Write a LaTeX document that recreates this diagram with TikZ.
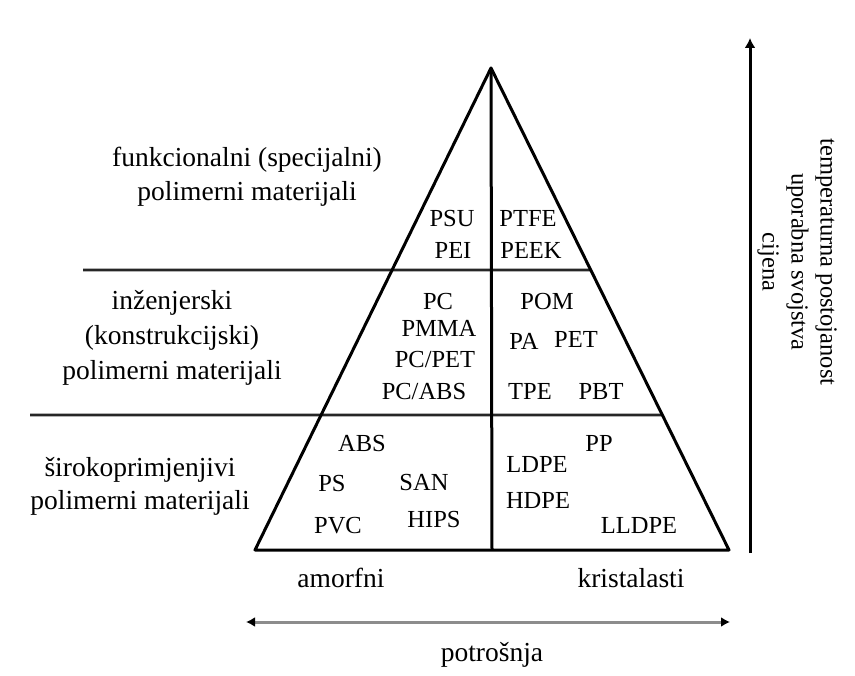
\documentclass[tikz,border=0pt]{standalone}
\usepackage{fontspec}
\setmainfont{Liberation Serif}
\usetikzlibrary{arrows.meta,calc}
\begin{document}
\begin{tikzpicture}[x=1pt,y=-1pt,
  edge/.style={line width=3pt, line join=round},
  sepline/.style={line width=2.6pt, draw=black!85},
  lbl/.style={font=\fontsize{27.5}{34}\selectfont, inner sep=0pt, anchor=base},
  mat/.style={font=\fontsize{24.5}{29}\selectfont, inner sep=0pt, anchor=base},
  side/.style={font=\fontsize{24.5}{29}\selectfont, inner sep=0pt, align=center, rotate=-90},
]
\useasboundingbox (0,0) rectangle (855,676);
% triangle
\coordinate (apex) at (491,68);
\coordinate (bl) at (255,550);
\coordinate (br) at (729,550);
\coordinate (bm) at ($(bl)!0.5!(br)$);
\coordinate (s1l) at (83,270);
\coordinate (s1r) at ($(apex)!0.419!(br)$);
\coordinate (s2l) at (30,415);
\coordinate (s2r) at ($(apex)!0.72!(br)$);
\draw[sepline] (s1l) -- (s1r);
\draw[sepline] (s2l) -- (s2r);
\draw[edge] (bl) -- (apex) -- (br) -- cycle;
\draw[edge] (apex) -- (bm);
% level labels
\node[lbl] (f1) at (247,167) {funkcionalni (specijalni)};
\node[lbl] (f2) at (247,201) {polimerni materijali};
\node[lbl] (i1) at (172,310) {inženjerski};
\node[lbl] (i2) at (172,345) {(konstrukcijski)};
\node[lbl] (i3) at (172,380) {polimerni materijali};
\node[lbl] (w1) at (140,477) {širokoprimjenjivi};
\node[lbl] (w2) at (140,510) {polimerni materijali};
% materials
\node[mat] (psu) at (452,227) {PSU};
\node[mat] (pei) at (453,259) {PEI};
\node[mat] (ptfe) at (528,227) {PTFE};
\node[mat] (peek) at (531,259) {PEEK};
\node[mat] (pc) at (438,310) {PC};
\node[mat] (pmma) at (439,337) {PMMA};
\node[mat] (pcpet) at (435,368) {PC/PET};
\node[mat] (pcabs) at (424,400) {PC/ABS};
\node[mat] (pom) at (547,310) {POM};
\node[mat] (pa) at (524,350) {PA};
\node[mat] (pet) at (576,348) {PET};
\node[mat] (tpe) at (530,400) {TPE};
\node[mat] (pbt) at (601,400) {PBT};
\node[mat] (abs) at (362,452) {ABS};
\node[mat] (ps) at (332,492) {PS};
\node[mat] (san) at (424,490) {SAN};
\node[mat] (pvc) at (338,533) {PVC};
\node[mat] (hips) at (434,528) {HIPS};
\node[mat] (pp) at (599,452) {PP};
\node[mat] (ldpe) at (537,473) {LDPE};
\node[mat] (hdpe) at (538,508) {HDPE};
\node[mat] (lldpe) at (639,533) {LLDPE};
% bottom labels
\node[lbl] (amo) at (341,587) {amorfni};
\node[lbl] (kri) at (631,587) {kristalasti};
\node[lbl] (pot) at (492,661) {potrošnja};
\coordinate (hl) at (246,622);
\coordinate (hr) at (730,622);
\draw[line width=3pt, draw=black!45, {Latex[length=9pt,width=10pt,color=black]}-{Latex[length=9pt,width=10pt,color=black]}] (hl) -- (hr);
% vertical arrow
\coordinate (vb) at (750,553);
\coordinate (vt) at (750,38);
\draw[line width=3pt, -{Latex[length=10pt,width=11pt]}] (vb) -- (vt);
\node[side] (side) at (797,262) {temperaturna postojanost\\uporabna svojstva\\cijena};
\end{tikzpicture}
\end{document}
